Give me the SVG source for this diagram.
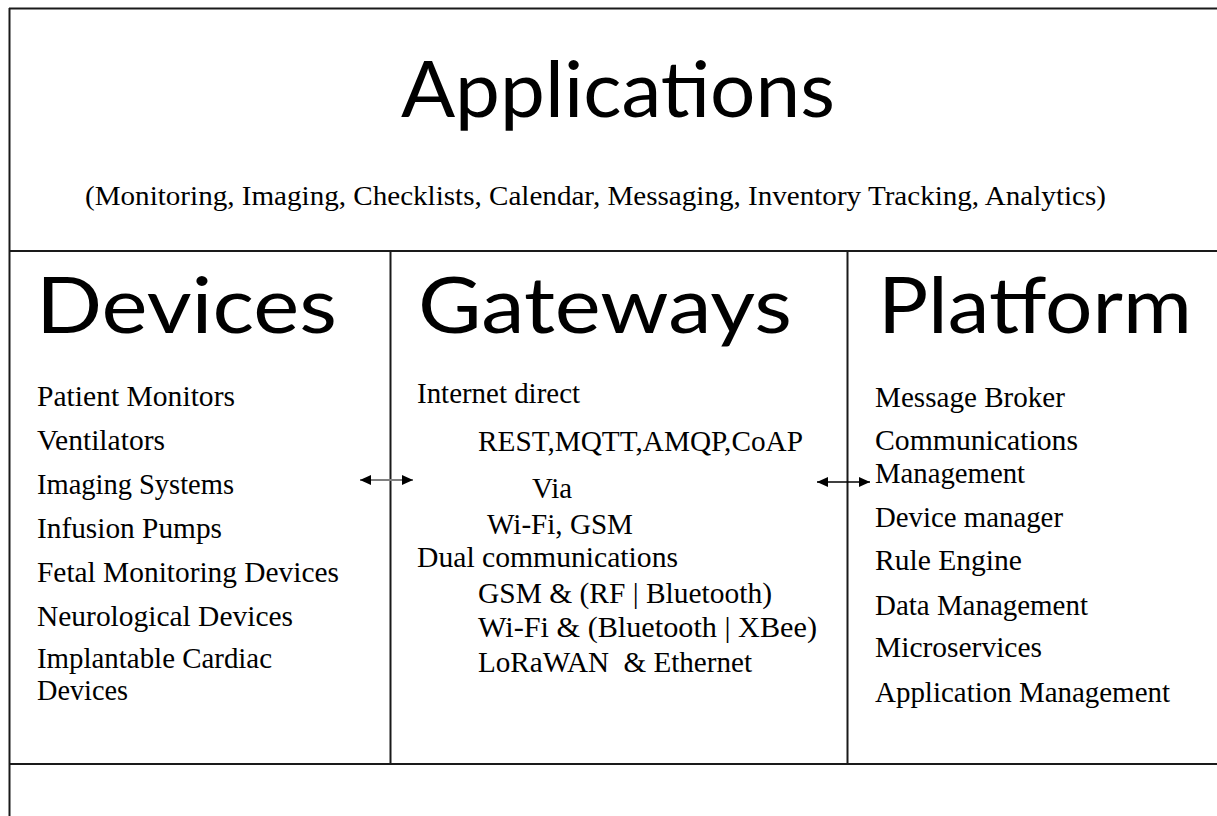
<svg xmlns="http://www.w3.org/2000/svg" width="1217" height="816" viewBox="0 0 1217 816">
  <style>
    .frame { stroke: #1a1a1a; stroke-width: 2; fill: none; }
    .title { font-family: Lato, "Open Sans", sans-serif; font-size: 78px; fill: #000; }
    .item { font-family: "Liberation Serif", "Times New Roman", serif; font-size: 29px; fill: #000; white-space: pre; }
    .sub { font-family: "Liberation Serif", "Times New Roman", serif; font-size: 28px; fill: #000; }
  </style>
  <defs>
    <marker id="head" viewBox="0 0 11 10" refX="11" refY="5" markerWidth="11" markerHeight="10" markerUnits="userSpaceOnUse" orient="auto-start-reverse">
      <path d="M0,0 L11,5 L0,10 z" fill="#000"/>
    </marker>
  </defs>
  <rect width="1217" height="816" fill="#fff"/>

  <g id="frame">
    <line class="frame" x1="9.5" y1="8" x2="9.5" y2="816"/>
    <line class="frame" x1="9" y1="8.5" x2="1217" y2="8.5"/>
    <line class="frame" x1="9" y1="251" x2="1217" y2="251"/>
    <line class="frame" x1="9" y1="764" x2="1217" y2="764"/>
    <line class="frame" x1="390.5" y1="251" x2="390.5" y2="764"/>
    <line class="frame" x1="847.5" y1="251" x2="847.5" y2="764"/>
  </g>

  <g id="applications">
    <text class="title" x="401" y="117" textLength="434" lengthAdjust="spacingAndGlyphs">Applications</text>
    <text class="sub" x="85" y="205" textLength="1021" lengthAdjust="spacingAndGlyphs">(Monitoring, Imaging, Checklists, Calendar, Messaging, Inventory Tracking, Analytics)</text>
  </g>

  <g id="devices">
    <text class="title" x="36" y="333" textLength="301" lengthAdjust="spacingAndGlyphs">Devices</text>
    <text class="item" x="37" y="406" textLength="198" lengthAdjust="spacingAndGlyphs">Patient Monitors</text>
    <text class="item" x="37" y="450" textLength="128" lengthAdjust="spacingAndGlyphs">Ventilators</text>
    <text class="item" x="37" y="494" textLength="197" lengthAdjust="spacingAndGlyphs">Imaging Systems</text>
    <text class="item" x="37" y="538" textLength="185" lengthAdjust="spacingAndGlyphs">Infusion Pumps</text>
    <text class="item" x="37" y="582" textLength="302" lengthAdjust="spacingAndGlyphs">Fetal Monitoring Devices</text>
    <text class="item" x="37" y="626" textLength="256" lengthAdjust="spacingAndGlyphs">Neurological Devices</text>
    <text class="item" x="37" y="668" textLength="235" lengthAdjust="spacingAndGlyphs">Implantable Cardiac</text>
    <text class="item" x="37" y="700" textLength="91" lengthAdjust="spacingAndGlyphs">Devices</text>
  </g>

  <g id="gateways">
    <text class="title" x="418" y="333" textLength="374" lengthAdjust="spacingAndGlyphs">Gateways</text>
    <text class="item" x="417" y="403" textLength="163" lengthAdjust="spacingAndGlyphs">Internet direct</text>
    <text class="item" x="478" y="451" textLength="325" lengthAdjust="spacingAndGlyphs">REST,MQTT,AMQP,CoAP</text>
    <text class="item" x="532" y="498" textLength="40" lengthAdjust="spacingAndGlyphs">Via</text>
    <text class="item" x="487" y="534" textLength="146" lengthAdjust="spacingAndGlyphs">Wi-Fi, GSM</text>
    <text class="item" x="417" y="567" textLength="261" lengthAdjust="spacingAndGlyphs">Dual communications</text>
    <text class="item" x="478" y="603" textLength="294" lengthAdjust="spacingAndGlyphs">GSM &amp; (RF | Bluetooth)</text>
    <text class="item" x="478" y="637" textLength="339" lengthAdjust="spacingAndGlyphs">Wi-Fi &amp; (Bluetooth | XBee)</text>
    <text class="item" x="478" y="672" textLength="274" lengthAdjust="spacingAndGlyphs">LoRaWAN  &amp; Ethernet</text>
  </g>

  <g id="platform">
    <text class="title" x="878" y="333" textLength="314" lengthAdjust="spacingAndGlyphs">Platform</text>
    <text class="item" x="875" y="407" textLength="190" lengthAdjust="spacingAndGlyphs">Message Broker</text>
    <text class="item" x="875" y="450" textLength="203" lengthAdjust="spacingAndGlyphs">Communications</text>
    <text class="item" x="875" y="483" textLength="150" lengthAdjust="spacingAndGlyphs">Management</text>
    <text class="item" x="875" y="527" textLength="188" lengthAdjust="spacingAndGlyphs">Device manager</text>
    <text class="item" x="875" y="570" textLength="147" lengthAdjust="spacingAndGlyphs">Rule Engine</text>
    <text class="item" x="875" y="615" textLength="213" lengthAdjust="spacingAndGlyphs">Data Management</text>
    <text class="item" x="875" y="657" textLength="167" lengthAdjust="spacingAndGlyphs">Microservices</text>
    <text class="item" x="875" y="702" textLength="295" lengthAdjust="spacingAndGlyphs">Application Management</text>
  </g>

  <g id="connectors">
    <line x1="360" y1="480" x2="413" y2="480" stroke="#808080" stroke-width="2" marker-start="url(#head)" marker-end="url(#head)"/>
    <line x1="817" y1="482" x2="870" y2="482" stroke="#000" stroke-width="1.5" marker-start="url(#head)" marker-end="url(#head)"/>
  </g>
</svg>
